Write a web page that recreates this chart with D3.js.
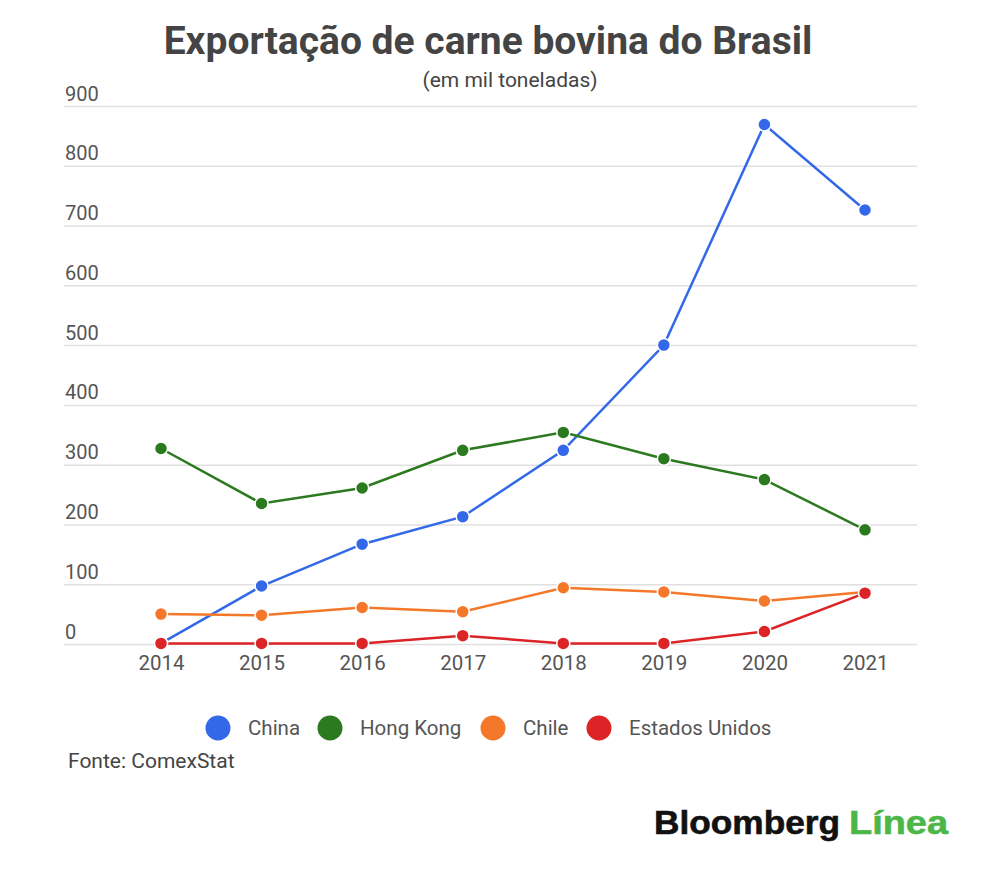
<!DOCTYPE html>
<html>
<head>
<meta charset="utf-8">
<script src="https://cdn.jsdelivr.net/npm/d3@7"></script>
<style>
  body { margin: 0; background: #fff; }
  text { font-family: Roboto, "Noto Sans", sans-serif; }
  text.logo { font-family: "Liberation Sans", Arial, sans-serif; }
</style>
</head>
<body>
<svg width="1000" height="872"></svg>
<script>
// Data (mil toneladas)
const years = ["2014", "2015", "2016", "2017", "2018", "2019", "2020", "2021"];
const china = [1, 97, 167, 213, 324, 500, 869, 726];
const hongKong = [327, 235, 261, 324, 354, 310, 275, 191];
const chile = [50, 48, 61, 54, 94, 87, 72, 87];
const estadosUnidos = [1, 1, 1, 14, 1, 1, 21, 85];
const yTicks = [0, 100, 200, 300, 400, 500, 600, 700, 800, 900];

const seriesNames = ["China", "Hong Kong", "Chile", "Estados Unidos"];
const seriesValues = [china, hongKong, chile, estadosUnidos];
const seriesColors = ["#3369e8", "#2c7a1f", "#f5782a", "#dc2427"];

const svg = d3.select("svg");

const x = d3.scalePoint().domain(years).range([161, 865]);
const y = d3.scaleLinear().domain([0, 900]).range([644, 106]);

// Title
svg.append("text")
    .attr("x", 488).attr("y", 54)
    .attr("text-anchor", "middle")
    .attr("font-size", "39px").attr("font-weight", 700)
    .attr("fill", "#444")
    .text("Exportação de carne bovina do Brasil");

svg.append("text")
    .attr("x", 510).attr("y", 87)
    .attr("text-anchor", "middle")
    .attr("font-size", "21px")
    .attr("fill", "#444")
    .text("(em mil toneladas)");

// Gridlines + y labels
const yAxis = svg.append("g").attr("class", "axis-y")
    .attr("transform", "translate(64,0)")
    .call(d3.axisRight(y).tickValues(yTicks).tickSize(853).tickFormat(d3.format("d")));
yAxis.select(".domain").remove();
yAxis.selectAll(".tick line").attr("stroke", "#e0e0e0").attr("stroke-width", 1.5);
yAxis.selectAll(".tick text")
    .attr("x", 1).attr("y", -6).attr("dy", 0)
    .attr("text-anchor", "start")
    .attr("font-size", "20px")
    .attr("fill", "#555");

// X labels
const xAxis = svg.append("g").attr("class", "axis-x")
    .attr("transform", "translate(0,644)")
    .call(d3.axisBottom(x).tickSize(0).tickPadding(11));
xAxis.select(".domain").remove();
xAxis.selectAll(".tick text")
    .attr("font-size", "20.5px")
    .attr("fill", "#555");

// Lines and points
const line = d3.line()
    .x((d, i) => x(years[i]))
    .y(d => y(d));

seriesValues.forEach((vals, k) => {
    svg.append("path")
        .datum(vals)
        .attr("fill", "none")
        .attr("stroke", seriesColors[k])
        .attr("stroke-width", 2.5)
        .attr("d", line);
});

seriesValues.forEach((vals, k) => {
    svg.append("g").selectAll("circle")
        .data(vals)
        .join("circle")
        .attr("cx", (d, i) => x(years[i]))
        .attr("cy", d => y(d))
        .attr("r", 6.5)
        .attr("fill", seriesColors[k])
        .attr("stroke", "#fff")
        .attr("stroke-width", 1.5);
});

// Legend
const legendX = [218, 330, 493, 599];
const legend = svg.append("g").attr("class", "legend");
seriesNames.forEach((name, k) => {
    legend.append("circle")
        .attr("cx", legendX[k]).attr("cy", 728)
        .attr("r", 12.5)
        .attr("fill", seriesColors[k]);
    legend.append("text")
        .attr("x", legendX[k] + 30).attr("y", 735)
        .attr("font-size", "20.5px")
        .attr("fill", "#555")
        .text(name);
});

// Source
svg.append("text")
    .attr("x", 68).attr("y", 768)
    .attr("font-size", "21px")
    .attr("fill", "#444")
    .text("Fonte: ComexStat");

// Logo
const logo = svg.append("text")
    .attr("class", "logo")
    .attr("y", 834)
    .attr("font-weight", 700)
    .attr("font-size", "34px")
    .attr("stroke-width", 0.6);
logo.append("tspan").attr("x", 654).attr("fill", "#111").attr("stroke", "#111")
    .attr("textLength", 186).attr("lengthAdjust", "spacingAndGlyphs").text("Bloomberg");
logo.append("tspan").attr("x", 849).attr("fill", "#4cb648").attr("stroke", "#4cb648")
    .attr("textLength", 99).attr("lengthAdjust", "spacingAndGlyphs").text("Línea");
</script>
</body>
</html>
